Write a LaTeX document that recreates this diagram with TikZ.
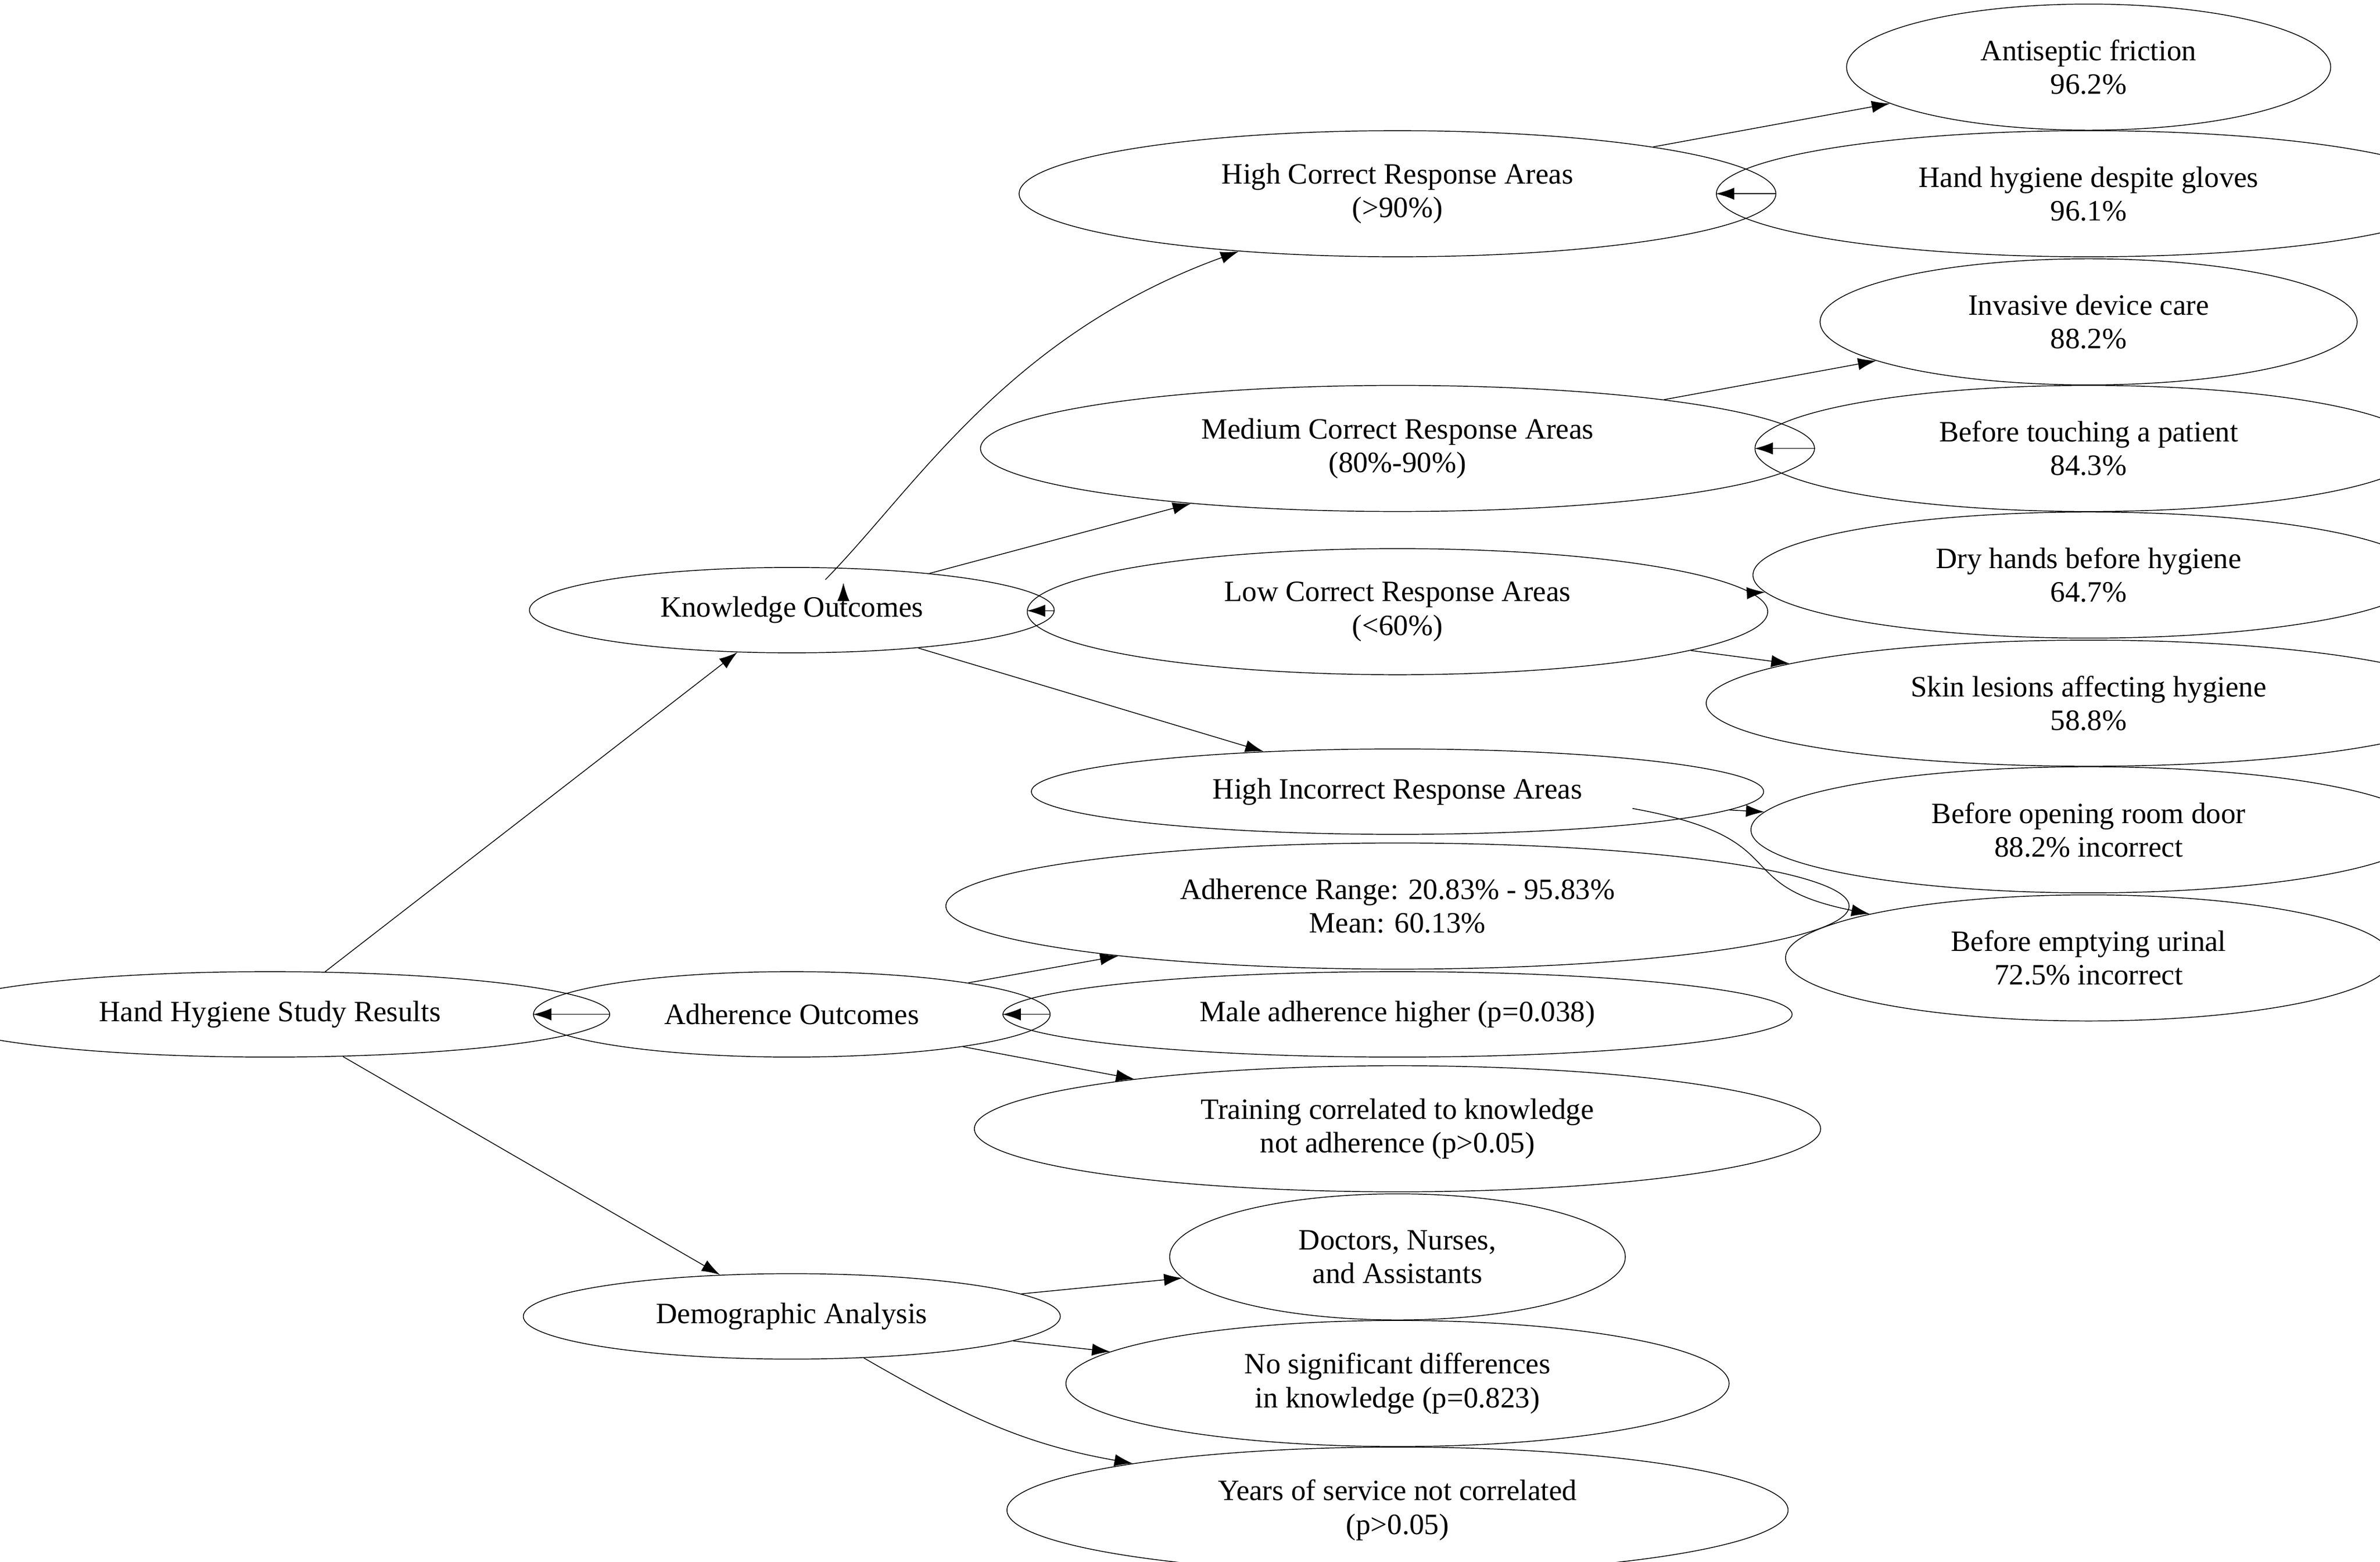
\documentclass[tikz,border=0pt]{standalone}
\usepackage{fontspec}
\setmainfont{Liberation Serif}
\usetikzlibrary{shapes.geometric,arrows.meta}
\begin{document}
\begin{tikzpicture}[x=0.75pt,y=-0.75pt,
  e/.style={draw,ellipse,inner sep=0pt,align=center,font=\fontsize{14.5}{16.5}\selectfont},
  a/.style={-{Latex[length=9pt,width=6pt]},thin}]
\useasboundingbox (0,0) rectangle (1560,1024);
\def\E#1#2#3#4#5#6{\node[e,minimum width=#4*2,minimum height=#5*2] (#1) at (#2,#3) {#6};}
\E{root}{177}{665}{167}{21}{Hand Hygiene Study Results}
\E{ko}{519}{400}{129}{21}{Knowledge Outcomes}
\E{ao}{519}{665}{127}{21}{Adherence Outcomes}
\E{da}{519}{863}{132}{21}{Demographic Analysis}
\E{hc}{916}{127}{186}{31}{High Correct Response Areas\\(>90\%)}
\E{mc}{916}{294}{205}{31}{Medium Correct Response Areas\\(80\%-90\%)}
\E{lc}{916}{401}{182}{31}{Low Correct Response Areas\\(<60\%)}
\E{hi}{916}{519}{180}{21}{High Incorrect Response Areas}
\E{ar}{916}{594}{222}{31}{Adherence Range: 20.83\% - 95.83\%\\Mean: 60.13\%}
\E{ma}{916}{665}{194}{21}{Male adherence higher (p=0.038)}
\E{tr}{916}{740}{208}{31}{Training correlated to knowledge\\not adherence (p>0.05)}
\E{dn}{916}{824}{112}{31}{Doctors, Nurses,\\and Assistants}
\E{ns}{916}{907}{163}{31}{No significant differences\\in knowledge (p=0.823)}
\E{ys}{916}{990}{192}{31}{Years of service not correlated\\(p>0.05)}
\E{af}{1369}{44}{119}{31}{Antiseptic friction\\96.2\%}
\E{hg}{1369}{127}{183}{31}{Hand hygiene despite gloves\\96.1\%}
\E{id}{1369}{211}{132}{31}{Invasive device care\\88.2\%}
\E{bt}{1369}{294}{164}{31}{Before touching a patient\\84.3\%}
\E{dh}{1369}{377}{165}{31}{Dry hands before hygiene\\64.7\%}
\E{sl}{1369}{461}{188}{31}{Skin lesions affecting hygiene\\58.8\%}
\E{bo}{1369}{544}{166}{31}{Before opening room door\\88.2\% incorrect}
\E{be}{1369}{628}{149}{31}{Before emptying urinal\\72.5\% incorrect}
\draw[a] (root) -- (ko);
\draw[a] (root) -- (ao);
\draw[a] (root) -- (da);
\draw[a] (ko.north east) ++(-88,2) coordinate (k1);
\draw[a] (541,380) .. controls (600,320) and (660,220) .. (hc);
\draw[a] (ko) -- (mc);
\draw[a] (ko) -- (lc);
\draw[a] (ko) -- (hi);
\draw[a] (ao) -- (ar);
\draw[a] (ao) -- (ma);
\draw[a] (ao) -- (tr);
\draw[a] (da) -- (dn);
\draw[a] (da) -- (ns);
\draw[a] (da) to[out=-30,in=170] (ys);
\draw[a] (hc) -- (af);
\draw[a] (hc) -- (hg);
\draw[a] (mc) -- (id);
\draw[a] (mc) -- (bt);
\draw[a] (lc) -- (dh);
\draw[a] (lc) -- (sl);
\draw[a] (hi) -- (bo);
\draw[a] (1070,530) .. controls (1180,550) and (1130,580) .. (be);
\end{tikzpicture}
\end{document}
